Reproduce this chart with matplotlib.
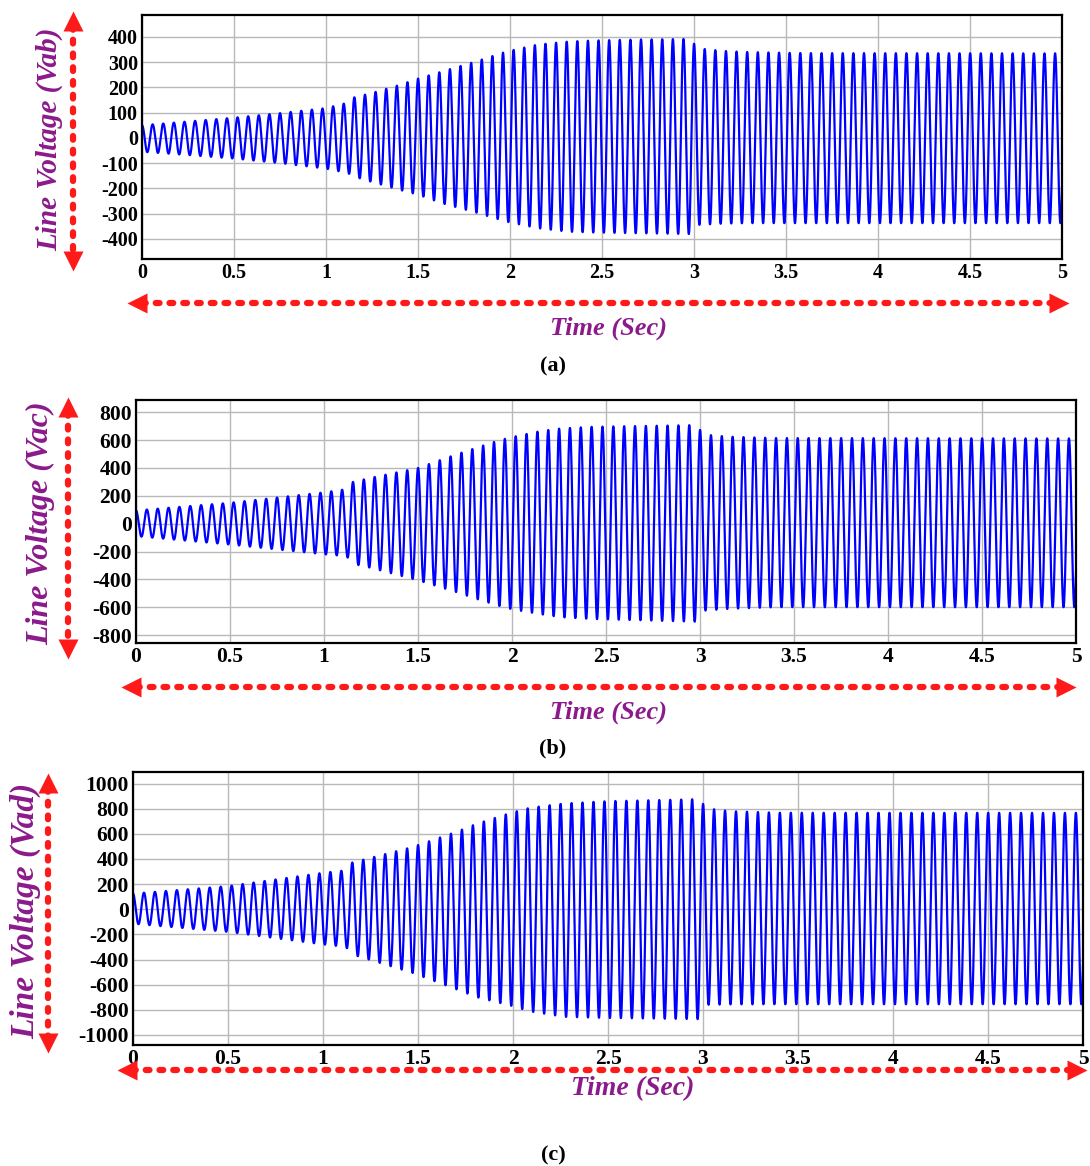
import numpy as np
import matplotlib
matplotlib.use("Agg")
import matplotlib.pyplot as plt

plt.rcParams["axes.unicode_minus"] = False
plt.rcParams["font.family"] = ["Liberation Serif", "DejaVu Serif"]

W, H = 1090, 1166
FREQ = 17.33  # cycles per second as seen in the picture

# envelope of the waveform (peak / trough)
t_a = [0, 0.25, 0.5, 0.75, 1.0, 1.12, 1.15, 1.25, 1.4, 1.5, 1.63, 1.81, 1.98, 2.15, 2.32, 2.45, 2.7, 2.98, 3.02, 3.15, 3.3, 3.6, 5.0]
up_a = [50, 65, 80, 98, 118, 140, 160, 178, 210, 235, 263, 302, 342, 370, 382, 386, 390, 392, 355, 345, 340, 336, 335]
lo_a = [-55, -68, -82, -100, -122, -140, -153, -175, -206, -225, -259, -295, -332, -358, -372, -375, -378, -381, -345, -340, -338, -338, -338]

t_b = [0, 0.5, 1.0, 1.12, 1.15, 1.25, 1.5, 1.7, 1.81, 1.93, 2.0, 2.15, 2.26, 2.43, 2.98, 3.02, 3.15, 3.4, 5.0]
up_b = [95, 150, 225, 248, 298, 330, 400, 496, 545, 598, 622, 665, 684, 696, 708, 640, 625, 615, 612]
lo_b = [-90, -150, -220, -234, -287, -318, -407, -490, -540, -590, -615, -650, -672, -685, -704, -625, -612, -600, -600]

t_c = [0, 0.5, 1.0, 1.12, 1.15, 1.47, 1.70, 1.81, 1.99, 2.09, 2.27, 2.5, 2.98, 3.02, 3.15, 3.4, 5.0]
up_c = [125, 184, 290, 310, 370, 495, 615, 681, 768, 808, 842, 860, 876, 802, 780, 768, 767]
lo_c = [-115, -180, -280, -299, -358, -506, -636, -700, -768, -813, -856, -865, -874, -760, -757, -756, -756]

yticks_a = [400, 300, 200, 100, 0, -100, -200, -300, -400]
yticks_b = [800, 600, 400, 200, 0, -200, -400, -600, -800]
yticks_c = [1000, 800, 600, 400, 200, 0, -200, -400, -600, -800, -1000]
xticks = [0, 0.5, 1, 1.5, 2, 2.5, 3, 3.5, 4, 4.5, 5]
xtick_labels = ["0", "0.5", "1", "1.5", "2", "2.5", "3", "3.5", "4", "4.5", "5"]

panels = [
    dict(t=t_a, up=up_a, lo=lo_a, ylim=(-480, 487), yt=yticks_a, box=(142, 15, 1062, 259),
         ylab="Line Voltage (Vab)", tsize=14.5, lsize=21, lab_x=50,
         vx=73, vy=(12, 270), hy=303, hx=(128, 1068), time_xy=(608, 328), tsz=19,
         tag="(a)", tag_y=366),
    dict(t=t_b, up=up_b, lo=lo_b, ylim=(-857, 888), yt=yticks_b, box=(136, 400, 1076, 643),
         ylab="Line Voltage (Vac)", tsize=15.5, lsize=23, lab_x=41,
         vx=68, vy=(398, 658), hy=687, hx=(122, 1075), time_xy=(608, 712), tsz=19,
         tag="(b)", tag_y=748),
    dict(t=t_c, up=up_c, lo=lo_c, ylim=(-1080, 1092), yt=yticks_c, box=(133, 772, 1083, 1045),
         ylab="Line Voltage (Vad)", tsize=15.5, lsize=24, lab_x=26,
         vx=48, vy=(774, 1052), hy=1070, hx=(118, 1086), time_xy=(633, 1089), tsz=20,
         tag="(c)", tag_y=1155),
]

PURPLE = "#8b1a8b"
RED = "#ff1a1a"

fig = plt.figure(figsize=(W / 100, H / 100), dpi=100)

t = np.linspace(0, 5, 30001)
carrier = np.cos(2 * np.pi * FREQ * t)

for p in panels:
    x0, y0, x1, y1 = p["box"]
    ax = fig.add_axes([x0 / W, 1 - y1 / H, (x1 - x0) / W, (y1 - y0) / H])
    env_up = np.interp(t, p["t"], p["up"])
    env_lo = np.interp(t, p["t"], p["lo"])
    v = np.where(carrier >= 0, env_up * carrier, -env_lo * carrier)
    ax.plot(t, v, color="#0000ff", lw=1.6)
    ax.set_xlim(0, 5)
    ax.set_ylim(*p["ylim"])
    ax.set_yticks(p["yt"])
    ax.set_yticklabels([str(v) for v in p["yt"]])
    ax.set_xticks(xticks)
    ax.set_xticklabels(xtick_labels)
    ax.grid(True, color="#b8b8b8", lw=1.0)
    ax.tick_params(length=0, pad=3, labelsize=p["tsize"])
    for lab in ax.get_xticklabels() + ax.get_yticklabels():
        lab.set_fontweight("bold")
    for s in ax.spines.values():
        s.set_linewidth(1.6)

# overlay for labels and red arrows, in pixel units
ov = fig.add_axes([0, 0, 1, 1])
ov.set_xlim(0, W)
ov.set_ylim(H, 0)
ov.axis("off")

for p in panels:
    # vertical arrow
    vx = p["vx"]
    ya, yb = p["vy"]
    ov.plot([vx, vx], [ya + 14, yb - 14], color=RED, lw=4.5, ls=(0, (0.6, 1.6)),
            dash_capstyle="round")
    ov.plot(vx, ya + 9, marker="^", color=RED, ms=15, mec="none")
    ov.plot(vx, yb - 9, marker="v", color=RED, ms=15, mec="none")
    # horizontal arrow
    xa, xb = p["hx"]
    hy = p["hy"]
    ov.plot([xa + 14, xb - 14], [hy, hy], color=RED, lw=4.5, ls=(0, (0.6, 1.6)),
            dash_capstyle="round")
    ov.plot(xa + 9, hy, marker="<", color=RED, ms=15, mec="none")
    ov.plot(xb - 9, hy, marker=">", color=RED, ms=15, mec="none")

    yc = (p["box"][1] + p["box"][3]) / 2 + 2
    ov.text(p["lab_x"], yc, p["ylab"], rotation=90, ha="center", va="center",
            color=PURPLE, fontsize=p["lsize"], fontweight="bold", fontstyle="italic")
    ov.text(p["time_xy"][0], p["time_xy"][1], "Time (Sec)", ha="center", va="center",
            color=PURPLE, fontsize=p["tsz"], fontweight="bold", fontstyle="italic")
    ov.text(553, p["tag_y"], p["tag"], ha="center", va="center", color="black",
            fontsize=16, fontweight="bold")

fig.savefig("out.png", dpi=100)
